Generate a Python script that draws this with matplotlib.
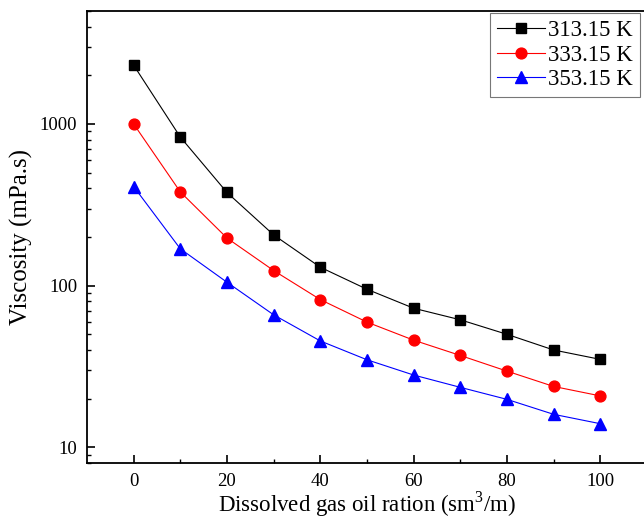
import numpy as np
import matplotlib
matplotlib.use('Agg')
import matplotlib.pyplot as plt
from matplotlib.ticker import LogLocator, NullFormatter, FixedLocator

plt.rcParams['font.family'] = ['Liberation Serif', 'DejaVu Serif']
plt.rcParams['mathtext.fontset'] = 'custom'
plt.rcParams['mathtext.rm'] = 'Liberation Serif'

# Viscosity vs dissolved gas oil ratio
gor = [0, 10, 20, 30, 40, 50, 60, 70, 80, 90, 100]
visc_313 = [2310, 830, 377, 206, 130, 95, 72.5, 61.5, 50, 40, 35]
visc_333 = [1000, 380, 197, 124, 82, 59.5, 46, 37, 29.6, 23.8, 20.8]
visc_353 = [410, 169, 105, 66, 45.5, 34.8, 28, 23.5, 19.8, 16, 14]

fig = plt.figure(figsize=(6.44, 5.19), dpi=100)
ax = fig.add_axes([87/644, 1 - 463/519, 560/644, 452/519])

ax.plot(gor, visc_313, color='black', lw=0.8, marker='s', ms=7.2, label='313.15 K')
ax.plot(gor, visc_333, color='red', lw=0.8, marker='o', ms=7.8, label='333.15 K')
ax.plot(gor, visc_353, color='blue', lw=0.8, marker='^', ms=8.2, label='353.15 K')

ax.set_yscale('log')
ax.set_xlim(-10, 110)
ax.set_ylim(8, 5000)

ax.xaxis.set_major_locator(FixedLocator([0, 20, 40, 60, 80, 100]))
ax.xaxis.set_minor_locator(FixedLocator([10, 30, 50, 70, 90]))
ax.yaxis.set_major_locator(FixedLocator([10, 100, 1000]))
ax.yaxis.set_major_formatter(plt.FuncFormatter(lambda v, p: f'{v:g}'))
ax.yaxis.set_minor_locator(LogLocator(base=10, subs=np.arange(2, 10)))
ax.yaxis.set_minor_formatter(NullFormatter())

ax.tick_params(which='major', direction='in', length=5.5, width=1.2, labelsize=13.5, pad=7)
ax.tick_params(which='minor', direction='in', length=3, width=1.0)
ax.tick_params(top=False, right=False, which='both')
for s in ax.spines.values():
    s.set_linewidth(1.3)

ax.set_xlabel('Dissolved gas oil ration (sm$^3$/m)', fontsize=16.5, labelpad=0)
ax.set_ylabel('Viscosity (mPa.s)', fontsize=18, labelpad=5)

leg = ax.legend(loc='upper right', bbox_to_anchor=(555/560, 1.0), fontsize=16.5,
                frameon=True, fancybox=False, edgecolor='#555555',
                handlelength=2.1, handletextpad=0.15, borderpad=0.3,
                labelspacing=0.15, borderaxespad=0.1)
leg.get_frame().set_linewidth(0.8)

plt.savefig('out.png', dpi=100)
